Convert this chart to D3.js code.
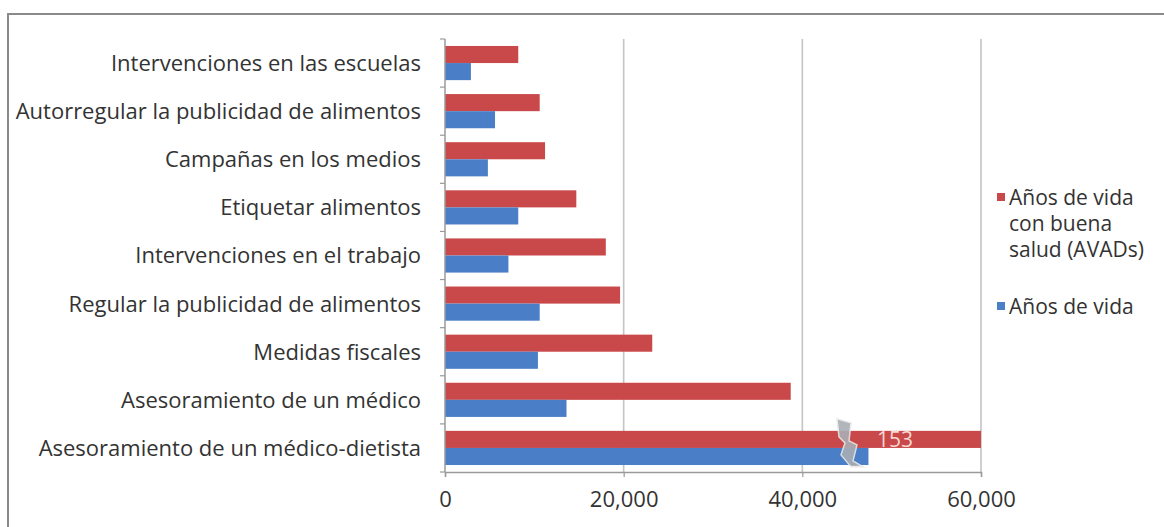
<!DOCTYPE html>
<html>
<head>
<meta charset="utf-8">
<script src="https://cdn.jsdelivr.net/npm/d3@7"></script>
<style>
  html, body { margin: 0; padding: 0; background: #fff; }
  svg { display: block; }
  text { font-family: "Open Sans", "Noto Sans", sans-serif; }
</style>
</head>
<body>
<svg id="chart" width="1164" height="527"></svg>
<script>
// Intervention categories, top to bottom
const categories = [
  "Intervenciones en las escuelas",
  "Autorregular la publicidad de alimentos",
  "Campañas en los medios",
  "Etiquetar alimentos",
  "Intervenciones en el trabajo",
  "Regular la publicidad de alimentos",
  "Medidas fiscales",
  "Asesoramiento de un médico",
  "Asesoramiento de un médico-dietista"
];
// Años de vida con buena salud (AVADs)
const avads = [8200, 10600, 11200, 14700, 18000, 19600, 23200, 38700, 153000];
// Años de vida
const anosVida = [2900, 5600, 4800, 8200, 7100, 10600, 10400, 13600, 47400];

const seriesKeys = ["avads", "vida"];
const xTicks = [0, 20000, 40000, 60000];
const xMax = 60000;

const colors = { avads: "#c9484a", vida: "#4a7ec6" };
const textColor = "#333333";

const rows = categories.map((c, i) => ({ cat: c, avads: avads[i], vida: anosVida[i] }));

const svg = d3.select("#chart");

// outer frame
svg.append("rect")
  .attr("x", 8).attr("y", 14)
  .attr("width", 1170).attr("height", 530)
  .attr("fill", "none").attr("stroke", "#8a8a8a").attr("stroke-width", 2);

const plotL = 445, plotR = 981, plotT = 39, plotB = 472;

const x = d3.scaleLinear().domain([0, xMax]).range([plotL, plotR]).clamp(true);
const y = d3.scaleBand().domain(categories).range([plotT, plotB])
  .paddingInner(0.29).paddingOuter(0.145);
const ySub = d3.scaleBand().domain(seriesKeys).range([0, y.bandwidth()]);

// vertical gridlines
svg.append("g").selectAll("line")
  .data(xTicks.filter(t => t > 0))
  .join("line")
  .attr("x1", d => x(d)).attr("x2", d => x(d))
  .attr("y1", plotT).attr("y2", plotB)
  .attr("stroke", "#c4c4c4").attr("stroke-width", 1.6);

// bars
const groups = svg.append("g").selectAll("g")
  .data(rows)
  .join("g")
  .attr("transform", d => `translate(0,${y(d.cat)})`);

groups.selectAll("rect")
  .data(d => seriesKeys.map(k => ({ key: k, value: d[k] })))
  .join("rect")
  .attr("x", x(0))
  .attr("y", d => ySub(d.key))
  .attr("width", d => x(d.value) - x(0))
  .attr("height", ySub.bandwidth())
  .attr("fill", d => colors[d.key]);

// axis break on the bar that runs past the scale
const last = rows[rows.length - 1];
const bx = x(45000);
const by = y(last.cat);
svg.append("path")
  .attr("d", `M${bx - 10},${by - 12} L${bx + 4},${by - 8} L${bx + 2},${by + 10}
              L${bx + 10},${by + 14} L${bx + 6},${by + 30} L${bx + 16},${by + 36}
              L${bx + 4},${by + 36} L${bx - 6},${by + 24} L${bx - 2},${by + 12}
              L${bx - 8},${by + 6} Z`)
  .attr("fill", "#a9aeb5").attr("stroke", "#e8e8e8").attr("stroke-width", 1.5)
  .attr("opacity", 0.9);

svg.append("text")
  .attr("x", bx + 30)
  .attr("y", by + ySub("avads") + ySub.bandwidth() / 2)
  .attr("dy", "0.36em")
  .attr("font-size", 21)
  .attr("fill", "#f6d6cf")
  .text(d3.format("d")(last.avads / 1000));

// y axis
const yAxis = svg.append("g")
  .attr("transform", `translate(${plotL},0)`);
yAxis.append("line")
  .attr("x1", 0).attr("x2", 0).attr("y1", plotT).attr("y2", plotB)
  .attr("stroke", "#9a9a9a").attr("stroke-width", 1.5);
yAxis.selectAll("line.tick")
  .data(d3.range(categories.length + 1))
  .join("line").attr("class", "tick")
  .attr("x1", -5).attr("x2", 0)
  .attr("y1", i => plotT + i * y.step()).attr("y2", i => plotT + i * y.step())
  .attr("stroke", "#9a9a9a").attr("stroke-width", 1.2);

svg.append("g").selectAll("text")
  .data(categories)
  .join("text")
  .attr("x", plotL - 24)
  .attr("y", d => y(d) + y.bandwidth() / 2)
  .attr("dy", "0.36em")
  .attr("text-anchor", "end")
  .attr("font-size", 22)
  .attr("fill", textColor)
  .text(d => d);

// x axis
const xAxis = d3.axisBottom(x)
  .tickValues(xTicks)
  .tickFormat(d3.format(","))
  .tickSize(5)
  .tickPadding(14);
const gx = svg.append("g")
  .attr("transform", `translate(0,${plotB})`)
  .call(xAxis);
gx.select(".domain").attr("stroke", "#9a9a9a").attr("stroke-width", 1.5);
gx.selectAll(".tick line").attr("stroke", "#9a9a9a").attr("stroke-width", 1.2);
gx.selectAll(".tick text")
  .attr("font-family", "Open Sans")
  .attr("font-size", 22)
  .attr("fill", textColor);

// legend
const legend = svg.append("g");
const legendItems = [
  { key: "avads", lines: ["Años de vida", "con buena", "salud (AVADs)"], y: 197 },
  { key: "vida", lines: ["Años de vida"], y: 306 }
];
legendItems.forEach(item => {
  legend.append("rect")
    .attr("x", 997).attr("y", item.y - 4)
    .attr("width", 8).attr("height", 8)
    .attr("fill", colors[item.key]);
  const t = legend.append("text")
    .attr("x", 1009).attr("y", item.y)
    .attr("font-size", 21)
    .attr("fill", textColor);
  item.lines.forEach((ln, i) => {
    t.append("tspan")
      .attr("x", 1009)
      .attr("dy", i === 0 ? "0.36em" : 26)
      .text(ln);
  });
});
</script>
</body>
</html>
